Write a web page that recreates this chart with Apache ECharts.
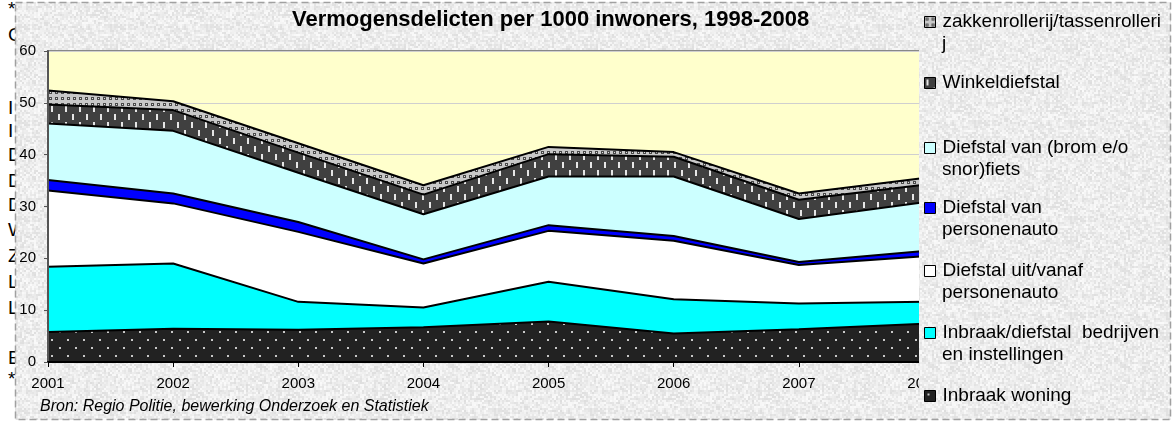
<!DOCTYPE html>
<html lang="nl">
<head>
    <meta charset="UTF-8">
    <title>Vermogensdelicten per 1000 inwoners</title>
    <script src="https://cdn.jsdelivr.net/npm/echarts@6/dist/echarts.min.js"></script>
    <style>
        body {
            padding: 0;
            margin: 0;
            background: #fff;
        }
        #wrap {
            position: relative;
            width: 1173px;
            height: 430px;
        }
        #doc {
            position: absolute;
            left: 0;
            top: 0;
            font: 19px "Liberation Sans", Arial, sans-serif;
            color: #000;
        }
        #doc span {
            position: absolute;
            left: 8px;
            line-height: 22px;
            white-space: nowrap;
        }
        #ec {
            position: absolute;
            left: 0;
            top: 0;
            width: 1173px;
            height: 430px;
        }
    </style>
</head>
<body>
<div id="wrap">
    <div id="doc"></div>
    <div id="ec"></div>
</div>
<script>
    // gegevens per jaar (per 1000 inwoners)
    const years = ['2001', '2002', '2003', '2004', '2005', '2006', '2007', '2008'];
    const inbraakWoning = [5.8, 6.4, 6.2, 6.7, 7.8, 5.5, 6.3, 7.4];
    const inbraakBedrijven = [12.6, 12.6, 5.4, 3.8, 7.7, 6.6, 5.0, 4.2];
    const diefstalUitAuto = [14.7, 11.6, 13.5, 8.5, 9.8, 11.3, 7.4, 8.8];
    const diefstalAuto = [2.0, 1.9, 1.9, 0.8, 1.1, 0.9, 0.6, 1.0];
    const diefstalFiets = [10.9, 12.1, 9.5, 8.7, 9.4, 11.5, 8.3, 9.4];
    const winkeldiefstal = [3.7, 4.0, 3.9, 3.8, 4.3, 3.8, 3.7, 3.4];
    const zakkenrollerij = [2.7, 1.7, 1.8, 1.8, 1.4, 0.9, 1.2, 1.3];

    const seriesNames = [
        'Inbraak woning',
        'Inbraak/diefstal  bedrijven en instellingen',
        'Diefstal uit/vanaf personenauto',
        'Diefstal van personenauto',
        'Diefstal van (brom e/o snor)fiets',
        'Winkeldiefstal',
        'zakkenrollerij/tassenrollerij'
    ];
    const seriesData = [inbraakWoning, inbraakBedrijven, diefstalUitAuto, diefstalAuto,
        diefstalFiets, winkeldiefstal, zakkenrollerij];
    // legendatekst zoals afgebroken in het origineel (van boven naar beneden)
    const legendLines = [
        ['zakkenrollerij/tassenrolleri', 'j'],
        ['Winkeldiefstal'],
        ['Diefstal van (brom e/o', 'snor)fiets'],
        ['Diefstal van', 'personenauto'],
        ['Diefstal uit/vanaf', 'personenauto'],
        ['Inbraak/diefstal  bedrijven', 'en instellingen'],
        ['Inbraak woning']
    ];
    // beginletters van de documenttekst achter de grafiek
    const sideLetters = ['*', 'C', 'I', 'I', 'D', 'D', 'D', 'W', 'Z', 'L', 'L', 'B', '*'];
    const sideLetterY = [9, 35, 108, 131, 155, 181, 205, 230, 256, 282, 308, 358, 379];

    const FONT = '"Liberation Sans", Arial, sans-serif';

    let doc = document.getElementById('doc');
    sideLetters.forEach((t, i) => {
        let s = document.createElement('span');
        s.textContent = t;
        s.style.top = (sideLetterY[i] - 11) + 'px';
        doc.appendChild(s);
    });

    function makePattern(w, h, bg, paint) {
        let c = document.createElement('canvas');
        c.width = w;
        c.height = h;
        let ctx = c.getContext('2d');
        ctx.fillStyle = bg;
        ctx.fillRect(0, 0, w, h);
        if (paint) paint(ctx);
        return {image: c, repeat: 'repeat'};
    }

    // grijze gevlekte achtergrond (vaste hash, geen toeval)
    const bgTexture = makePattern(96, 96, '#eaeaea', ctx => {
        for (let j = 0; j < 48; j++) {
            for (let i = 0; i < 48; i++) {
                let v = Math.sin(i * 12.9898 + j * 78.233) * 43758.5453;
                v = v - Math.floor(v);
                let g = Math.round(222 + v * 28);
                ctx.fillStyle = `rgb(${g},${g},${g})`;
                ctx.fillRect(i * 2, j * 2, 2, 2);
            }
        }
    });

    const fills = [
        makePattern(16, 16, '#222222', ctx => {
            ctx.fillStyle = '#c8c8c8';
            ctx.fillRect(3, 3, 2, 2);
            ctx.fillRect(11, 11, 2, 2);
        }),
        '#00ffff',
        '#ffffff',
        '#0000ff',
        '#ccffff',
        makePattern(14, 16, '#404040', ctx => {
            ctx.fillStyle = '#e6e6e6';
            ctx.fillRect(2, 2, 2, 6);
            ctx.fillRect(9, 10, 2, 6);
        }),
        makePattern(6, 6, '#c8c8c8', ctx => {
            ctx.fillStyle = '#4a4a4a';
            ctx.fillRect(1, 1, 3, 3);
            ctx.fillStyle = '#e0e0e0';
            ctx.fillRect(2, 2, 1, 1);
        })
    ];

    let ec = echarts.init(document.getElementById('ec'));

    let series = seriesData.map((d, i) => ({
        name: seriesNames[i],
        type: 'line',
        stack: 'totaal',
        data: d,
        symbol: 'none',
        z: 9 - i,
        lineStyle: {color: '#000', width: 2},
        areaStyle: {color: fills[i], opacity: 1},
        emphasis: {disabled: true}
    }));

    let legendTops = [22, 83, 148, 208, 271, 333, 396];
    let legends = [];
    let graphics = [];
    legendLines.forEach((lines, k) => {
        let idx = seriesNames.length - 1 - k;
        legends.push({
            left: 924,
            top: legendTops[k] - 11,
            padding: 0,
            icon: 'rect',
            itemWidth: 11,
            itemHeight: 11,
            selectedMode: false,
            z: 14,
            formatter: () => lines[0],
            textStyle: {fontSize: 19, fontFamily: FONT, color: '#000', lineHeight: 22, padding: [0, 0, 0, 2]},
            data: [{
                name: seriesNames[idx],
                itemStyle: {color: fills[idx], borderColor: '#000', borderWidth: 1}
            }]
        });
        if (lines[1]) {
            graphics.push({
                type: 'text', z: 14, silent: true,
                style: {
                    x: 942, y: legendTops[k] + 22, text: lines[1],
                    font: '19px ' + FONT, fill: '#000', verticalAlign: 'middle'
                }
            });
        }
    });

    graphics.push(
        {type: 'rect', z: 0, silent: true, shape: {x: 15, y: 2, width: 1156, height: 418}, style: {fill: bgTexture}},
        {type: 'rect', z: 12, silent: true, shape: {x: 919, y: 3, width: 251, height: 416}, style: {fill: bgTexture}},
        {type: 'rect', z: 13, silent: true, shape: {x: 15.5, y: 2.5, width: 1155, height: 417},
            style: {fill: 'none', stroke: '#a0a0a0', lineWidth: 1.5, lineDash: [7, 4]}},
        {type: 'text', z: 13, silent: true,
            style: {x: 40, y: 407, text: 'Bron: Regio Politie, bewerking Onderzoek en Statistiek',
                font: 'italic 16px ' + FONT, fill: '#000', verticalAlign: 'middle'}}
    );

    let option = {
        animation: false,
        title: {
            text: 'Vermogensdelicten per 1000 inwoners, 1998-2008',
            left: 292,
            top: 9,
            padding: 0,
            z: 13,
            textStyle: {fontSize: 22, fontWeight: 'bold', fontFamily: FONT, color: '#000'}
        },
        legend: legends,
        grid: {
            left: 48,
            right: 249,
            top: 51,
            bottom: 68,
            z: 1,
            show: true,
            backgroundColor: '#ffffcc',
            borderColor: '#888',
            borderWidth: 2
        },
        xAxis: {
            type: 'category',
            data: years,
            boundaryGap: false,
            z: 10,
            axisLine: {lineStyle: {color: '#000', width: 2}},
            axisTick: {length: 5, lineStyle: {color: '#000'}},
            axisLabel: {fontSize: 15, fontFamily: FONT, color: '#000', margin: 14}
        },
        yAxis: [{
            type: 'value',
            min: 0,
            max: 60,
            interval: 10,
            z: 10,
            axisLine: {show: true, lineStyle: {color: '#555', width: 2}},
            axisTick: {show: true, length: 4, lineStyle: {color: '#555'}},
            splitLine: {show: false},
            axisLabel: {fontSize: 15, fontFamily: FONT, color: '#000', margin: 12}
        }, {
            type: 'value',
            min: 0,
            max: 60,
            interval: 10,
            position: 'left',
            z: 1,
            axisLine: {show: false},
            axisTick: {show: false},
            axisLabel: {show: false},
            splitLine: {lineStyle: {color: '#cfcfcf', width: 1}}
        }],
        graphic: graphics,
        series: series
    };
    ec.setOption(option);
</script>
</body>
</html>
